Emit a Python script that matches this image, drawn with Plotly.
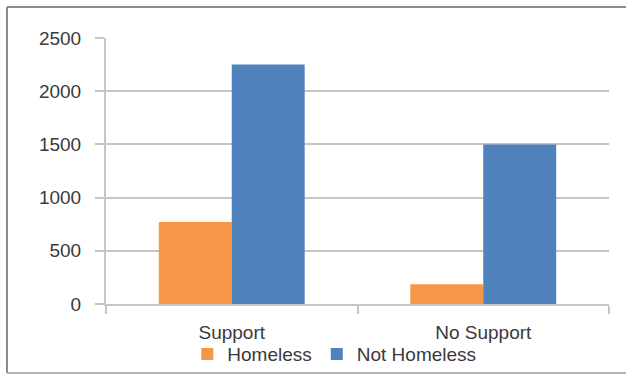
import plotly.graph_objects as go

# Survey counts by support status
categories = ["Support", "No Support"]
homeless = [770, 185]
not_homeless = [2250, 1500]
y_ticks = [0, 500, 1000, 1500, 2000, 2500]

ORANGE = "#F79646"
BLUE = "#4F81BD"
TEXT = "#3A3A3A"
GRID = "#C6C6C6"
FONT = "Liberation Sans"
FS = 19

fig = go.Figure()
fig.add_trace(go.Bar(name="Homeless", x=categories, y=homeless,
                     marker=dict(color=ORANGE, line=dict(width=0))))
fig.add_trace(go.Bar(name="Not Homeless", x=categories, y=not_homeless,
                     marker=dict(color=BLUE, line=dict(width=0))))

fig.update_layout(
    width=626, height=374,
    margin=dict(l=106, r=17, t=38, b=70, autoexpand=False),
    paper_bgcolor="white", plot_bgcolor="white",
    barmode="group", bargap=0.42, bargroupgap=0,
    font=dict(family=FONT, size=FS, color=TEXT),
    showlegend=True,
    legend=dict(orientation="h", xref="container", yref="container",
                x=0.534, xanchor="center", y=0.053, yanchor="middle",
                font=dict(family=FONT, size=FS, color=TEXT),
                itemwidth=30, tracegroupgap=0,
                bgcolor="rgba(0,0,0,0)"),
    # chart frame
    shapes=[
        dict(type="line", xref="paper", yref="paper",
             x0=-0.1968, x1=-0.1968, y0=-0.2594, y1=1.1165,
             line=dict(color="#8C8C8C", width=2), layer="below"),
        dict(type="line", xref="paper", yref="paper",
             x0=-0.1968, x1=1.05, y0=1.1165, y1=1.1165,
             line=dict(color="#8C8C8C", width=2), layer="below"),
        dict(type="line", xref="paper", yref="paper",
             x0=-0.1968, x1=1.05, y0=-0.2594, y1=-0.2594,
             line=dict(color="#B4B4B4", width=2), layer="below"),
    ],
)
fig.update_xaxes(
    showgrid=False, showline=True, linecolor=GRID, linewidth=2,
    ticks="outside", tickson="boundaries", ticklen=8, tickwidth=2,
    tickcolor=GRID, ticklabelstandoff=10,
    tickfont=dict(family=FONT, size=FS, color=TEXT),
)
fig.update_yaxes(
    range=[0, 2500], tickvals=y_ticks,
    showgrid=True, gridcolor=GRID, gridwidth=2,
    showline=True, linecolor=GRID, linewidth=2,
    ticks="outside", ticklen=9, tickwidth=2, tickcolor=GRID,
    ticklabelstandoff=10, zeroline=False,
    tickfont=dict(family=FONT, size=FS, color=TEXT),
)

fig.write_html("out.html")
